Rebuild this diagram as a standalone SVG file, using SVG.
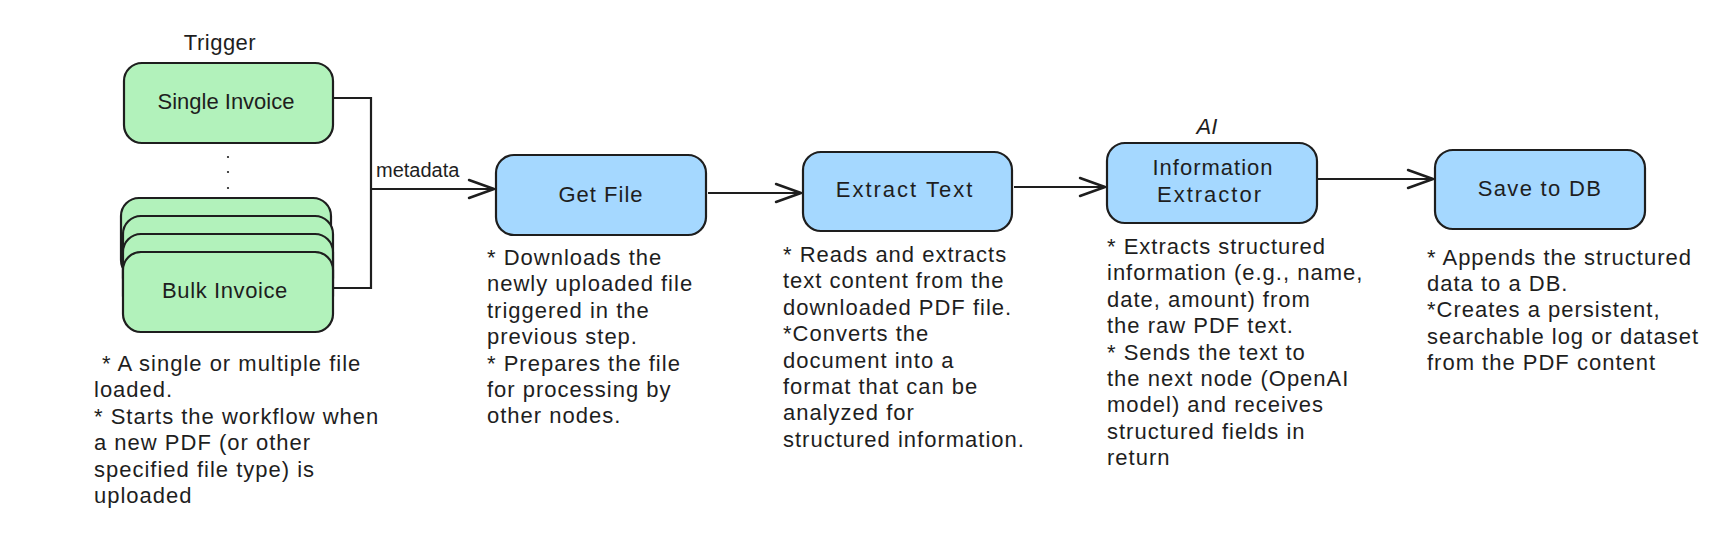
<svg xmlns="http://www.w3.org/2000/svg" width="1730" height="542" viewBox="0 0 1730 542">
<style>
  .box { stroke: #1e1e1e; stroke-width: 2.2; }
  .green { fill: #b2f2bb; }
  .blue { fill: #a5d8ff; }
  .lbl { font-family: "Liberation Sans", Arial, sans-serif; font-size: 22px; fill: #1e1e1e; text-anchor: middle; }
  .desc { font-family: "Liberation Sans", Arial, sans-serif; font-size: 22px; fill: #1e1e1e; letter-spacing: 1px; }
  .small { font-family: "Liberation Sans", Arial, sans-serif; font-size: 20px; fill: #1e1e1e; }
  .conn { fill: none; stroke: #1e1e1e; stroke-width: 2.2; stroke-linejoin: miter; }
</style>
<defs>
  <marker id="arrow" markerUnits="userSpaceOnUse" markerWidth="40" markerHeight="30" refX="0" refY="0" viewBox="-30 -15 40 30" orient="auto" overflow="visible">
    <path d="M -25 -9 L 0 0 L -25 9" fill="none" stroke="#1e1e1e" stroke-width="2.4" stroke-linecap="round" stroke-linejoin="round"/>
  </marker>
</defs>
<rect width="1730" height="542" fill="#ffffff"/>

<g id="trigger-label">
  <text class="lbl" x="220" y="50" letter-spacing="0.5">Trigger</text>
</g>

<g id="single-invoice">
  <rect class="box green" x="124" y="63" width="209" height="80" rx="18"/>
  <text class="lbl" x="226" y="109">Single Invoice</text>
</g>

<g id="ellipsis">
  <circle cx="228" cy="157" r="1.1" fill="#1e1e1e"/>
  <circle cx="228" cy="172" r="1.1" fill="#1e1e1e"/>
  <circle cx="228" cy="188" r="1.1" fill="#1e1e1e"/>
</g>

<g id="bulk-invoice">
  <rect class="box green" x="121" y="198" width="210" height="80" rx="18"/>
  <rect class="box green" x="123" y="216" width="210" height="80" rx="18"/>
  <rect class="box green" x="123" y="234" width="210" height="80" rx="18"/>
  <rect class="box green" x="123" y="252" width="210" height="80" rx="18"/>
  <text class="lbl" x="225" y="298" letter-spacing="0.6">Bulk Invoice</text>
</g>

<g id="trigger-desc">
  <text class="desc" x="94" y="371"><tspan x="102">* A single or multiple file</tspan><tspan x="94" dy="26.4">loaded.</tspan><tspan x="94" dy="26.4">* Starts the workflow when</tspan><tspan x="94" dy="26.4">a new PDF (or other</tspan><tspan x="94" dy="26.4">specified file type) is</tspan><tspan x="94" dy="26.4">uploaded</tspan></text>
</g>

<g id="get-file">
  <rect class="box blue" x="496" y="155" width="210" height="80" rx="18"/>
  <text class="lbl" x="601" y="202" letter-spacing="1">Get File</text>
</g>
<g id="get-file-desc">
  <text class="desc" y="265"><tspan x="487">* Downloads the</tspan><tspan x="487" dy="26.4">newly uploaded file</tspan><tspan x="487" dy="26.4">triggered in the</tspan><tspan x="487" dy="26.4">previous step.</tspan><tspan x="487" dy="26.4">* Prepares the file</tspan><tspan x="487" dy="26.4">for processing by</tspan><tspan x="487" dy="26.4">other nodes.</tspan></text>
</g>

<g id="extract-text">
  <rect class="box blue" x="803" y="152" width="209" height="79" rx="18"/>
  <text class="lbl" x="905" y="197" letter-spacing="2">Extract Text</text>
</g>
<g id="extract-text-desc">
  <text class="desc" y="262"><tspan x="783">* Reads and extracts</tspan><tspan x="783" dy="26.4">text content from the</tspan><tspan x="783" dy="26.4">downloaded PDF file.</tspan><tspan x="783" dy="26.4">*Converts the</tspan><tspan x="783" dy="26.4">document into a</tspan><tspan x="783" dy="26.4">format that can be</tspan><tspan x="783" dy="26.4">analyzed for</tspan><tspan x="783" dy="26.4">structured information.</tspan></text>
</g>

<g id="ai-label">
  <text class="lbl" x="1207" y="134" font-style="italic">AI</text>
</g>

<g id="information-extractor">
  <rect class="box blue" x="1107" y="143" width="210" height="80" rx="18"/>
  <text class="lbl" x="1213" y="175" letter-spacing="1">Information</text>
  <text class="lbl" x="1210" y="202" letter-spacing="2">Extractor</text>
</g>
<g id="information-extractor-desc">
  <text class="desc" y="254"><tspan x="1107">* Extracts structured</tspan><tspan x="1107" dy="26.4">information (e.g., name,</tspan><tspan x="1107" dy="26.4">date, amount) from</tspan><tspan x="1107" dy="26.4">the raw PDF text.</tspan><tspan x="1107" dy="26.4">* Sends the text to</tspan><tspan x="1107" dy="26.4">the next node (OpenAI</tspan><tspan x="1107" dy="26.4">model) and receives</tspan><tspan x="1107" dy="26.4">structured fields in</tspan><tspan x="1107" dy="26.4">return</tspan></text>
</g>

<g id="save-to-db">
  <rect class="box blue" x="1435" y="150" width="210" height="79" rx="18"/>
  <text class="lbl" x="1540" y="196" letter-spacing="1.3">Save to DB</text>
</g>
<g id="save-to-db-desc">
  <text class="desc" y="264.5"><tspan x="1427">* Appends the structured</tspan><tspan x="1427" dy="26.4">data to a DB.</tspan><tspan x="1427" dy="26.4">*Creates a persistent,</tspan><tspan x="1427" dy="26.4">searchable log or dataset</tspan><tspan x="1427" dy="26.4">from the PDF content</tspan></text>
</g>

<g id="connectors">
  <path class="conn" d="M 333 98 H 371 V 288 H 333"/>
  <path class="conn" d="M 371 189 H 494" marker-end="url(#arrow)"/>
  <text class="small" x="376" y="177">metadata</text>
  <path class="conn" d="M 708 193 H 801" marker-end="url(#arrow)"/>
  <path class="conn" d="M 1014 187 H 1105" marker-end="url(#arrow)"/>
  <path class="conn" d="M 1318 179 H 1433" marker-end="url(#arrow)"/>
</g>
</svg>
